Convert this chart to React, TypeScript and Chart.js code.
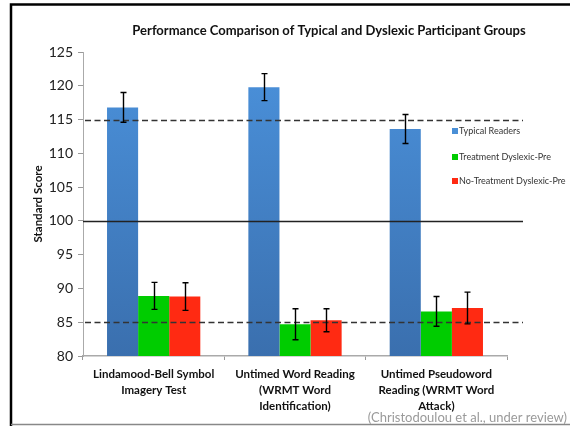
import React, { useEffect, useRef } from "react";
import { Chart, registerables } from "chart.js";

Chart.register(...registerables);

const chartTitle = "Performance Comparison of Typical and Dyslexic Participant Groups";
const yAxisTitle = "Standard Score";
const citation = "(Christodoulou et al., under review)";
const categories: string[][] = [
  ["Lindamood-Bell Symbol", "Imagery Test"],
  ["Untimed Word Reading", "(WRMT Word", "Identification)"],
  ["Untimed Pseudoword", "Reading (WRMT Word", "Attack)"],
];
const seriesNames = ["Typical Readers", "Treatment Dyslexic-Pre", "No-Treatment Dyslexic-Pre"];
const typicalValues = [116.8, 119.8, 113.6];
const typicalErrors = [2.2, 2.0, 2.15];
const treatmentValues = [88.9, 84.7, 86.6];
const treatmentErrors = [2.0, 2.3, 2.2];
const noTreatmentValues = [88.8, 85.3, 87.1];
const noTreatmentErrors = [2.05, 1.7, 2.35];
const dashedRefs = [115, 85];
const solidRef = 100;
const yMin = 80;
const yMax = 125;
const yStep = 5;

const FONT = "Lato, 'Open Sans', sans-serif";
const seriesColors = ["#4a8fd6", "#00cc00", "#ff2a12"];
const errorsBySeries = [typicalErrors, treatmentErrors, noTreatmentErrors];

const decorPlugin = {
  id: "decor",
  beforeDraw(chart: any) {
    const ctx = chart.ctx;
    ctx.save();
    ctx.fillStyle = "#ffffff";
    ctx.fillRect(0, 0, chart.width, chart.height);
    ctx.restore();
  },
  afterDatasetsDraw(chart: any) {
    const ctx = chart.ctx;
    const y = chart.scales.y;
    const area = chart.chartArea;
    const lineEnd = 523;
    ctx.save();
    ctx.strokeStyle = "#333333";
    ctx.lineWidth = 1.6;
    ctx.setLineDash([6, 3.5]);
    dashedRefs.forEach((v) => {
      const py = Math.round(y.getPixelForValue(v)) + 0.5;
      ctx.beginPath();
      ctx.moveTo(area.left + 2, py);
      ctx.lineTo(lineEnd, py);
      ctx.stroke();
    });
    ctx.setLineDash([]);
    ctx.strokeStyle = "#222222";
    ctx.lineWidth = 1.5;
    {
      const py = Math.round(y.getPixelForValue(solidRef)) + 0.5;
      ctx.beginPath();
      ctx.moveTo(area.left, py);
      ctx.lineTo(lineEnd, py);
      ctx.stroke();
    }
    ctx.strokeStyle = "#000000";
    ctx.lineWidth = 1.4;
    chart.data.datasets.forEach((ds: any, di: number) => {
      const meta = chart.getDatasetMeta(di);
      meta.data.forEach((bar: any, i: number) => {
        const v = ds.data[i];
        const e = errorsBySeries[di][i];
        const px = Math.round(bar.x) + 0.5;
        const top = y.getPixelForValue(v + e);
        const bot = y.getPixelForValue(v - e);
        ctx.beginPath();
        ctx.moveTo(px, top);
        ctx.lineTo(px, bot);
        ctx.moveTo(px - 3, top);
        ctx.lineTo(px + 3, top);
        ctx.moveTo(px - 3, bot);
        ctx.lineTo(px + 3, bot);
        ctx.stroke();
      });
    });
    ctx.restore();
  },
  afterDraw(chart: any) {
    const ctx = chart.ctx;
    ctx.save();
    ctx.fillStyle = "#111111";
    ctx.font = `bold 13px ${FONT}`;
    ctx.textAlign = "center";
    ctx.textBaseline = "middle";
    ctx.fillText(chartTitle, 329, 31);
    ctx.save();
    ctx.translate(38, 204);
    ctx.rotate(-Math.PI / 2);
    ctx.font = `bold 11.5px ${FONT}`;
    ctx.fillText(yAxisTitle, 0, 0);
    ctx.restore();
    ctx.font = `9px ${FONT}`;
    ctx.textAlign = "left";
    const legendY = [131, 157, 181];
    seriesNames.forEach((name, i) => {
      ctx.fillStyle = seriesColors[i];
      ctx.fillRect(452, legendY[i] - 3, 6, 6);
      ctx.fillStyle = "#333333";
      ctx.fillText(name, 459, legendY[i]);
    });
    ctx.font = `13px ${FONT}`;
    ctx.fillStyle = "#9a9a9a";
    ctx.textAlign = "right";
    ctx.fillText(citation, 567, 418);
    ctx.strokeStyle = "#000000";
    ctx.lineWidth = 2.5;
    ctx.beginPath();
    ctx.moveTo(570, 4.5);
    ctx.lineTo(11, 4.5);
    ctx.lineTo(11, 426);
    ctx.stroke();
    ctx.strokeStyle = "#888888";
    ctx.lineWidth = 1.5;
    ctx.beginPath();
    ctx.moveTo(11, 424.5);
    ctx.lineTo(570, 424.5);
    ctx.stroke();
    ctx.restore();
  },
};

export default function App() {
  const ref = useRef<HTMLCanvasElement | null>(null);
  useEffect(() => {
    document.body.style.margin = "0";
    const canvas = ref.current;
    if (!canvas) return;
    const blueGradient = (context: any) => {
      const c = context.chart;
      const area = c.chartArea;
      if (!area) return seriesColors[0];
      const g = c.ctx.createLinearGradient(0, area.top, 0, area.bottom);
      g.addColorStop(0, "#4b92dc");
      g.addColorStop(1, "#3a6fae");
      return g;
    };
    const chart = new Chart(canvas, {
      type: "bar",
      data: {
        labels: categories,
        datasets: [
          { label: seriesNames[0], data: typicalValues, backgroundColor: blueGradient },
          { label: seriesNames[1], data: treatmentValues, backgroundColor: seriesColors[1] },
          { label: seriesNames[2], data: noTreatmentValues, backgroundColor: seriesColors[2] },
        ],
      },
      options: {
        animation: false,
        responsive: false,
        devicePixelRatio: 1,
        layout: { padding: { top: 52, right: 63, left: 0, bottom: 0 } },
        datasets: { bar: { barPercentage: 1, categoryPercentage: 0.66 } },
        plugins: {
          legend: { display: false },
          title: { display: false },
          tooltip: { enabled: false },
        },
        scales: {
          x: {
            afterFit: (s: any) => {
              s.height = 70;
            },
            grid: { drawOnChartArea: false, tickLength: 4, color: "#999999" },
            border: { color: "#aaaaaa", width: 1.5 },
            ticks: {
              font: { family: FONT, size: 11.5, weight: "bold", lineHeight: 1.35 },
              color: "#111111",
              padding: 7,
              maxRotation: 0,
              autoSkip: false,
            },
          },
          y: {
            min: yMin,
            max: yMax,
            afterFit: (s: any) => {
              s.width = 83;
            },
            grid: { drawOnChartArea: false, tickLength: 5, color: "#999999" },
            border: { color: "#aaaaaa", width: 1 },
            ticks: {
              stepSize: yStep,
              font: { family: FONT, size: 14 },
              color: "#222222",
              padding: 5,
            },
          },
        },
      },
      plugins: [decorPlugin],
    } as any);
    return () => chart.destroy();
  }, []);
  return <canvas ref={ref} width={570} height={426} style={{ display: "block" }} />;
}
